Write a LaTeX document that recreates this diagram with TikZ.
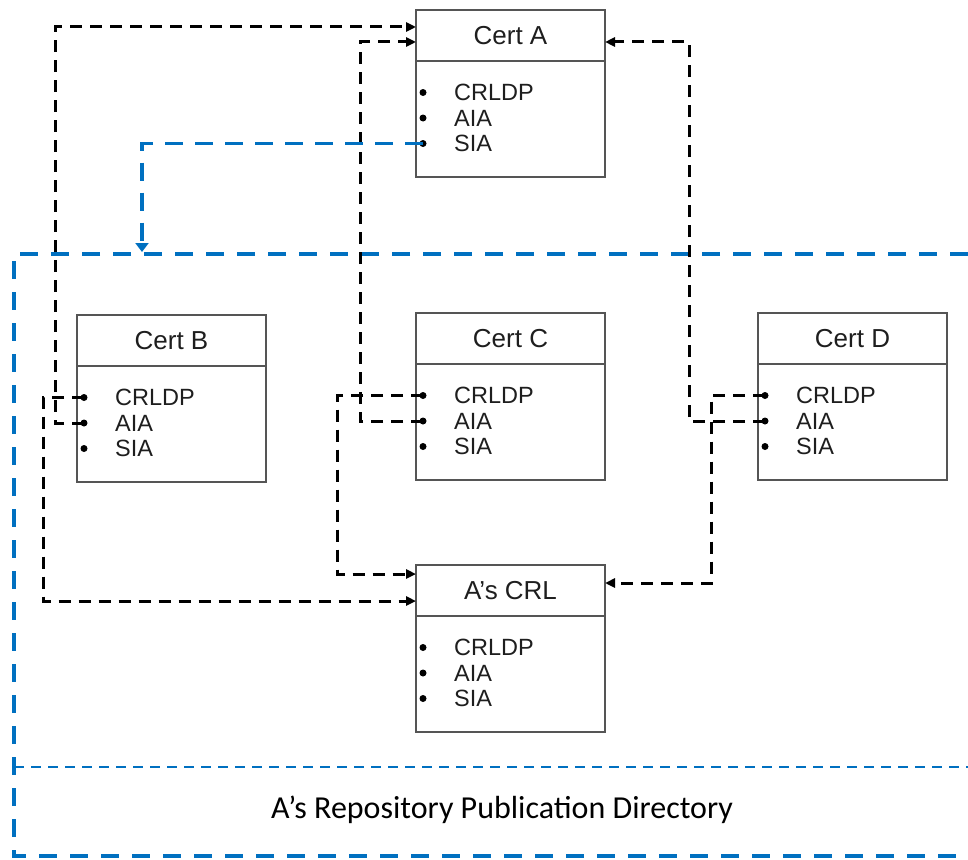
\documentclass[tikz,border=0pt]{standalone}
\usepackage{fontspec}
\setmainfont{Liberation Sans}
\newfontfamily\labelfont{Carlito}
\usetikzlibrary{arrows.meta}
\definecolor{boxgray}{RGB}{85,85,85}
\definecolor{txt}{RGB}{30,30,30}
\definecolor{repoblue}{RGB}{0,112,192}
\tikzset{
  cbox/.style={draw=boxgray, line width=2pt, minimum width=189pt, minimum height=167pt,
               inner sep=0pt, outer sep=0pt, anchor=north west},
  boxline/.style={draw=boxgray, line width=2pt},
  ctitle/.style={text=txt, font=\fontsize{26}{30}\selectfont, anchor=base, inner sep=0pt},
  citem/.style={text=txt, font=\fontsize{23.5}{28}\selectfont, anchor=base west, inner sep=0pt},
  dot/.style={circle, fill=black, inner sep=0pt, minimum size=7pt},
  link/.style={draw=black, line width=3pt, dash pattern=on 12pt off 8pt,
               -{Triangle[length=10pt,width=9pt]}},
  bluelink/.style={draw=repoblue, line width=3.2pt, dash pattern=on 18pt off 12pt,
               -{Triangle[length=9pt,width=13pt]}},
  region/.style={draw=repoblue, line width=3.8pt, dash pattern=on 18pt off 13pt},
  regionthin/.style={draw=repoblue, line width=2.6pt, dash pattern=on 10pt off 7pt},
  replabel/.style={text=black, font=\labelfont\fontsize{32}{38}\selectfont, inner sep=0pt},
}
% certificate box: name, title, left x, top y
\newcommand\certbox[4]{%
  \node[cbox] (#1) at (#3,#4) {};
  \draw[boxline] ([yshift=-51pt]#1.north west) -- ([yshift=-51pt]#1.north east);
  \node[ctitle] (#1-t) at ({#3+94.5},{#4+25+9.3}) {#2};
  \node[dot] (#1-b1) at ({#3+7},{#4+82.5}) {};
  \node[dot] (#1-b2) at ({#3+7},{#4+108}) {};
  \node[dot] (#1-b3) at ({#3+7},{#4+133.5}) {};
  \node[citem] (#1-l1) at ({#3+38},{#4+82.5+8.4}) {CRLDP};
  \node[citem] (#1-l2) at ({#3+38},{#4+108+8.4}) {AIA};
  \node[citem] (#1-l3) at ({#3+38},{#4+133.5+8.4}) {SIA};
}
\begin{document}
\begin{tikzpicture}[x=1pt,y=-1pt]
\useasboundingbox (0,0) rectangle (968,859);

% repository area
\draw[region] (968,254) -- (14,254) -- (14,856) -- (968,856);
\draw[regionthin] (14,767) -- (968,767);
\node[replabel] (repo) at (502,810) {A’s Repository Publication Directory};

% certificates
\certbox{A}{Cert A}{416}{10}
\certbox{B}{Cert B}{77}{315}
\certbox{C}{Cert C}{416}{313}
\certbox{D}{Cert D}{758}{313}
\certbox{R}{A’s CRL}{416}{565}

% entry points on the boxes
\coordinate (A-in1) at ([yshift=-17pt]A.north west);
\coordinate (A-in2) at ([yshift=-32pt]A.north west);
\coordinate (A-out) at ([yshift=-32pt]A.north east);
\coordinate (R-in1) at ([yshift=-9pt]R.north west);
\coordinate (R-in2) at ([yshift=-36pt]R.north west);
\coordinate (R-out) at ([yshift=-18pt]R.north east);
\coordinate (rtop) at (142,252);

% AIA pointers to Cert A
\draw[link] (B-b2.center) -- ++(-29,0) |- (A-in1);
\draw[link] (C-b2.center) -- ++(-63,0) |- (A-in2);
\draw[link] (D-b2.center) -- ++(-76,0) |- (A-out);

% CRLDP pointers to A's CRL
\draw[link] (B-b1.center) -- ++(-41,0) |- (R-in2);
\draw[link] (C-b1.center) -- ++(-86,0) |- (R-in1);
\draw[link] (D-b1.center) -- ++(-54,0) |- (R-out);

% SIA pointer to the repository
\draw[bluelink] (A-b3.center) -| (rtop);
\end{tikzpicture}
\end{document}
